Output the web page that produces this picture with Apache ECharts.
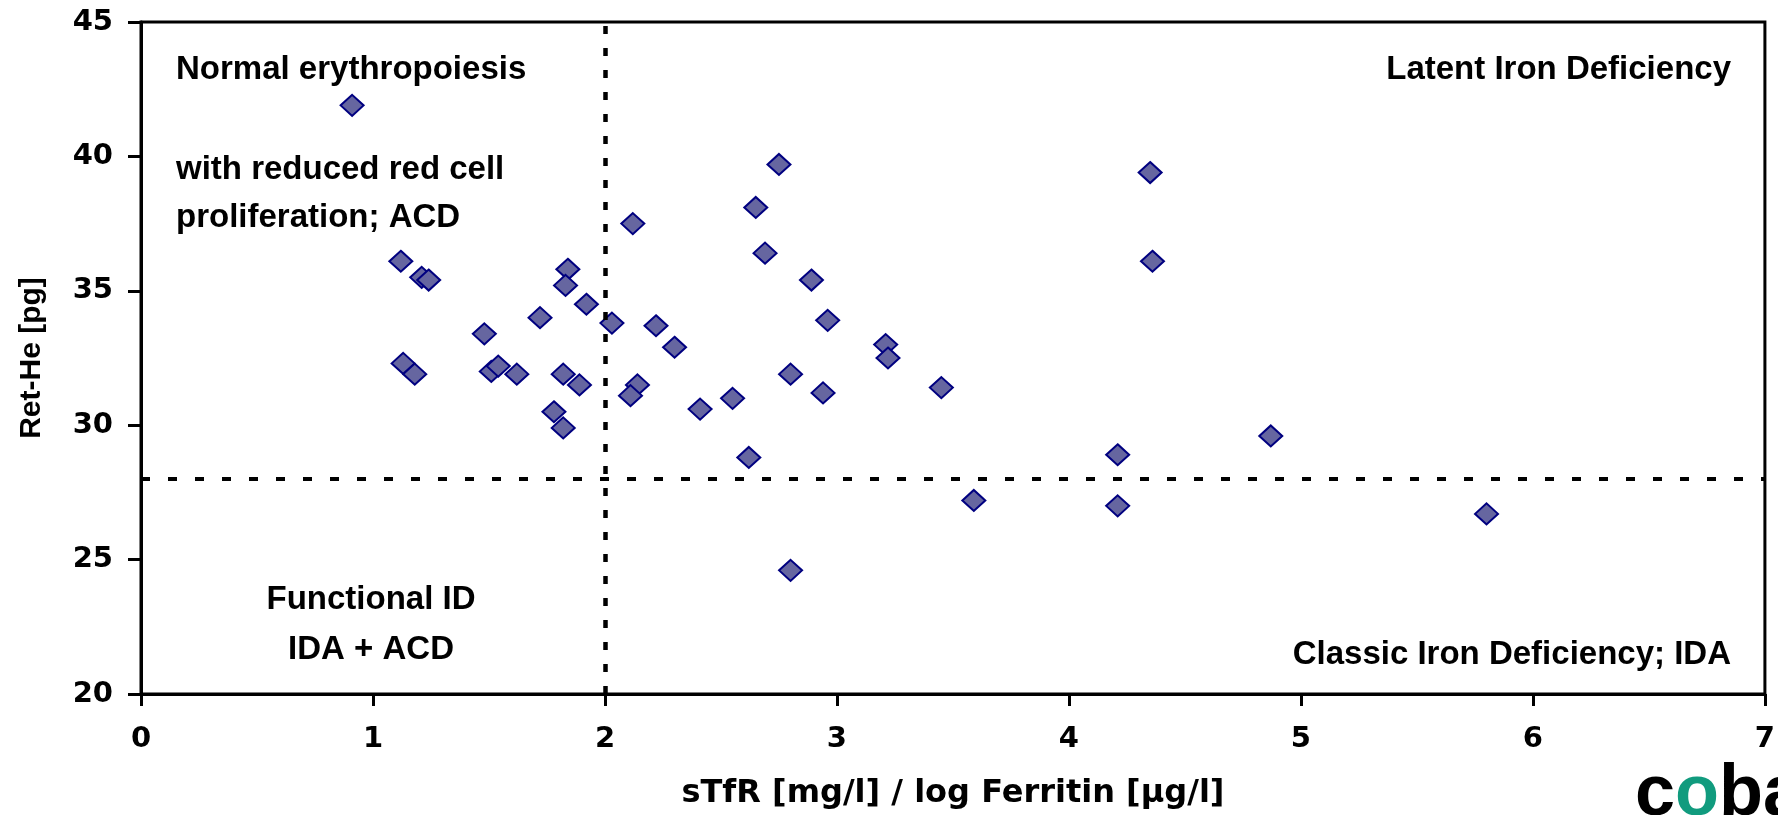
<!DOCTYPE html>
<html>
<head>
<meta charset="utf-8">
<script src="https://cdn.jsdelivr.net/npm/echarts@6/dist/echarts.min.js"></script>
<style>
  html, body { margin: 0; padding: 0; background: #fff; }
  #chart { width: 1778px; height: 815px; }
</style>
</head>
<body>
<div id="chart"></div>
<script>
// sTfR / log Ferritin (x) against Ret-He (y)
const xValues = [0.91, 1.12, 1.21, 1.24, 1.13, 1.18, 1.48, 1.51, 1.54, 1.62, 1.72, 1.78, 1.82, 1.82, 1.89,
  1.84, 1.83, 1.92, 2.03, 2.12, 2.14, 2.11, 2.22, 2.30, 2.41, 2.55, 2.62, 2.65, 2.69, 2.75,
  2.80, 2.80, 2.89, 2.96, 2.94, 3.21, 3.22, 3.45, 3.59, 4.21, 4.21, 4.35, 4.36, 4.87, 5.80];
const yValues = [41.9, 36.1, 35.5, 35.4, 32.3, 31.9, 33.4, 32.0, 32.2, 31.9, 34.0, 30.5, 29.9, 31.9, 31.5,
  35.8, 35.2, 34.5, 33.8, 37.5, 31.5, 31.1, 33.7, 32.9, 30.6, 31.0, 28.8, 38.1, 36.4, 39.7,
  31.9, 24.6, 35.4, 33.9, 31.2, 33.0, 32.5, 31.4, 27.2, 28.9, 27.0, 39.4, 36.1, 29.6, 26.7];

// quadrant cut-offs
const sTfrCutoff = 2;
const retHeCutoff = 28;

const xRange = [0, 7];
const yRange = [20, 45];

const points = xValues.map((x, i) => [x, yValues[i]]);

const labelFont = 'bold 33px "Liberation Sans", Arial, sans-serif';
const chart = echarts.init(document.getElementById('chart'));

chart.setOption({
  animation: false,
  backgroundColor: '#fff',
  grid: {
    left: 141, right: 12, top: 22, bottom: 115,
    show: true, borderColor: '#000', borderWidth: 3
  },
  xAxis: {
    type: 'value',
    min: xRange[0], max: xRange[1], interval: 1,
    name: 'sTfR [mg/l] / log Ferritin [µg/l]',
    nameLocation: 'middle',
    nameGap: 84,
    nameTextStyle: { fontFamily: 'DejaVu Sans', fontWeight: 'bold', fontSize: 32, color: '#000' },
    axisLine: { lineStyle: { color: '#000', width: 3 } },
    axisTick: { length: 12, lineStyle: { color: '#000', width: 3 } },
    axisLabel: { margin: 31, fontFamily: 'DejaVu Sans', fontWeight: 'bold', fontSize: 29, color: '#000' },
    splitLine: { show: false }
  },
  yAxis: {
    type: 'value',
    min: yRange[0], max: yRange[1], interval: 5,
    name: 'Ret-He [pg]',
    nameLocation: 'middle',
    nameGap: 94,
    nameTextStyle: { fontFamily: 'Liberation Sans', fontWeight: 'bold', fontSize: 30, color: '#000' },
    axisLine: { lineStyle: { color: '#000', width: 3 } },
    axisTick: { length: 13, lineStyle: { color: '#000', width: 3 } },
    axisLabel: { margin: 28, fontFamily: 'DejaVu Sans', fontWeight: 'bold', fontSize: 29, color: '#000' },
    splitLine: { show: false }
  },
  series: [{
    type: 'scatter',
    data: points,
    symbol: 'diamond',
    symbolSize: [23, 21],
    itemStyle: { color: '#6666a0', borderColor: '#000080', borderWidth: 2, opacity: 1 },
    markLine: {
      silent: true,
      symbol: 'none',
      label: { show: false },
      data: [
        { xAxis: sTfrCutoff, lineStyle: { color: '#000', width: 4.5, type: [8, 14] } },
        { yAxis: retHeCutoff, lineStyle: { color: '#000', width: 4, type: [9, 18] } }
      ]
    }
  }],
  graphic: [
    { type: 'text', x: 176, y: 70, style: { text: 'Normal erythropoiesis', font: labelFont, fill: '#000', textAlign: 'left', textVerticalAlign: 'middle' } },
    { type: 'text', x: 176, y: 170, style: { text: 'with reduced red cell', font: labelFont, fill: '#000', textAlign: 'left', textVerticalAlign: 'middle' } },
    { type: 'text', x: 176, y: 218, style: { text: 'proliferation; ACD', font: labelFont, fill: '#000', textAlign: 'left', textVerticalAlign: 'middle' } },
    { type: 'text', x: 1731, y: 70, style: { text: 'Latent Iron Deficiency', font: labelFont, fill: '#000', textAlign: 'right', textVerticalAlign: 'middle' } },
    { type: 'text', x: 371, y: 600, style: { text: 'Functional ID', font: labelFont, fill: '#000', textAlign: 'center', textVerticalAlign: 'middle' } },
    { type: 'text', x: 371, y: 650, style: { text: 'IDA + ACD', font: labelFont, fill: '#000', textAlign: 'center', textVerticalAlign: 'middle' } },
    { type: 'text', x: 1731, y: 655, style: { text: 'Classic Iron Deficiency; IDA', font: labelFont, fill: '#000', textAlign: 'right', textVerticalAlign: 'middle' } },
    {
      type: 'text', x: 1635, y: 795,
      style: {
        text: '{k|c}{g|o}{k|ba}',
        font: 'bold 72px "Liberation Sans", Arial, sans-serif',
        textAlign: 'left', textVerticalAlign: 'middle',
        rich: {
          k: { fill: '#000', font: 'bold 72px "Liberation Sans", Arial, sans-serif' },
          g: { fill: '#119b7e', font: 'bold 72px "Liberation Sans", Arial, sans-serif' }
        }
      }
    }
  ]
});
</script>
</body>
</html>
